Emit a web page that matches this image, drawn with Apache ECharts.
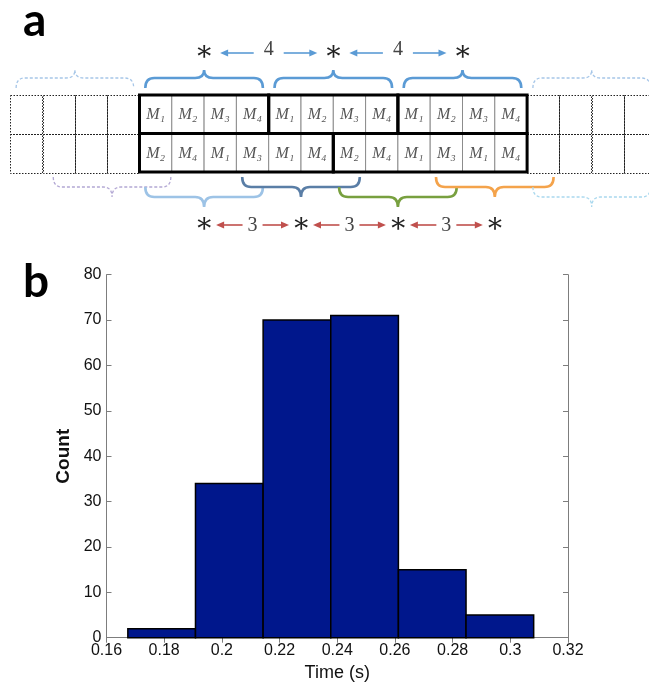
<!DOCTYPE html>
<html>
<head>
<meta charset="utf-8">
<script src="https://cdn.jsdelivr.net/npm/echarts@6.0.0/dist/echarts.min.js"></script>
<style>
html,body{margin:0;padding:0;background:#ffffff;}
#chart{width:649px;height:683px;}
</style>
</head>
<body>
<div id="chart"></div>
<script>
// ===== Panel b: histogram =====
const binStart = [0.1674, 0.19085, 0.2143, 0.23775, 0.2612, 0.28465];
const binEnd   = [0.19085, 0.2143, 0.23775, 0.2612, 0.28465, 0.3081];
const counts   = [2, 34, 70, 71, 15, 5];
const xTickLabels = ['0.16','0.18','0.2','0.22','0.24','0.26','0.28','0.3','0.32'];
const yTickLabels = ['0','10','20','30','40','50','60','70','80'];

// ===== Panel a: schedule table =====
const topRow    = ['M₁','M₂','M₃','M₄','M₁','M₂','M₃','M₄','M₁','M₂','M₃','M₄'];
const bottomRow = ['M₂','M₄','M₁','M₃','M₁','M₄','M₂','M₄','M₁','M₃','M₁','M₄'];
const topGroups    = [[0,4],[4,8],[8,12]];
const bottomGroups = [[0,6],[6,12]];
const ghostCols = 4;
const topStars    = [2, 6, 10];
const bottomStars = [2, 5, 8, 11];
const topBraceCenters    = [-2, 2, 6, 10, 14];
const bottomBraceCenters = [-0.85, 2, 5, 8, 11, 14];

// ----- styles -----
const topBraceColors  = ['#a6c6e8','#5b9bd5','#5b9bd5','#5b9bd5','#a6c6e8'];
const topBraceDashed  = [true,false,false,false,true];
const botBraceColors  = ['#b3a8d4','#9dc3e6','#5a7ea6','#78a03f','#f4a34b','#a9d8ee'];
const botBraceDashed  = [true,false,false,false,false,true];
const botBraceLevel   = [0,1,0,1,0,1];
const BRACE_HALF = 1.82;

const nCols = topRow.length;
const ghostData = [];
for (let r = 0; r < 2; r++) {
  for (let c = -ghostCols; c < 0; c++) ghostData.push([c, r]);
  for (let c = nCols; c < nCols + ghostCols; c++) ghostData.push([c, r]);
}
const cellData = topRow.map((_, i) => [i, 0]).concat(bottomRow.map((_, i) => [i, 1]));
const cellLabels = topRow.concat(bottomRow);
const groupData = topGroups.map(g => [g[0], g[1], 0]).concat(bottomGroups.map(g => [g[0], g[1], 1]));

function rectOf(api, c0, c1, r) {
  const p0 = api.coord([c0, r]), p1 = api.coord([c1, r + 1]);
  return {x: p0[0], y: p0[1], width: p1[0] - p0[0], height: p1[1] - p0[1]};
}
function bracePath(x0, x1, xc, yEnd, yLine, yPeak, r) {
  return 'M' + x0 + ',' + yEnd +
    ' Q' + x0 + ',' + yLine + ' ' + (x0 + r) + ',' + yLine +
    ' L' + (xc - r) + ',' + yLine +
    ' Q' + xc + ',' + yLine + ' ' + xc + ',' + yPeak +
    ' Q' + xc + ',' + yLine + ' ' + (xc + r) + ',' + yLine +
    ' L' + (x1 - r) + ',' + yLine +
    ' Q' + x1 + ',' + yLine + ' ' + x1 + ',' + yEnd;
}
function arrow(xTail, xHead, y, color) {
  const dir = xHead > xTail ? 1 : -1;
  return [
    {type: 'line', shape: {x1: xTail, y1: y, x2: xHead - dir * 5, y2: y}, style: {stroke: color, lineWidth: 1.6}},
    {type: 'polygon', shape: {points: [[xHead, y], [xHead - dir * 8, y - 3.6], [xHead - dir * 8, y + 3.6]]}, style: {fill: color}}
  ];
}

const gapPairsTop = topStars.slice(0, -1).map((s, i) => [s, topStars[i + 1]]);
const gapPairsBot = bottomStars.slice(0, -1).map((s, i) => [s, bottomStars[i + 1]]);

const chart = echarts.init(document.getElementById('chart'), null, {renderer: 'canvas'});
const axisGray = '#7d7d7d';
const option = {
  animation: false,
  backgroundColor: '#ffffff',
  textStyle: {fontFamily: 'Liberation Sans'},
  graphic: [
    {type: 'text', x: 23, y: 21, style: {text: 'a', font: 'bold 46px Lato', fill: '#000', align: 'left', verticalAlign: 'middle'}},
    {type: 'text', x: 23, y: 282, style: {text: 'b', font: 'bold 46px Lato', fill: '#000', align: 'left', verticalAlign: 'middle'}}
  ],
  grid: [
    {left: 10.3, top: 95, width: 646, height: 77, containLabel: false, outerBoundsMode: 'none'},
    {left: 106.5, top: 274.7, width: 461.5, height: 363, containLabel: false, outerBoundsMode: 'none'}
  ],
  xAxis: [
    {gridIndex: 0, type: 'value', min: -ghostCols, max: nCols + ghostCols, show: false},
    {gridIndex: 1, type: 'value', min: 0.16, max: 0.32, interval: 0.02, position: 'bottom',
     axisLine: {show: true, lineStyle: {color: axisGray, width: 1}},
     axisTick: {show: true, inside: true, length: 5, lineStyle: {color: axisGray}},
     axisLabel: {show: true, showMinLabel: true, showMaxLabel: true, margin: 5, color: '#111', fontSize: 16,
       formatter: (v, i) => xTickLabels[i]},
     splitLine: {show: false},
     name: 'Time (s)', nameLocation: 'middle', nameGap: 26,
     nameTextStyle: {fontSize: 18, color: '#111'}},
    {gridIndex: 1, type: 'value', min: 0.16, max: 0.32, interval: 0.02, position: 'top',
     axisLine: {show: true, lineStyle: {color: axisGray, width: 1}},
     axisTick: {show: true, inside: true, length: 5, lineStyle: {color: axisGray}},
     axisLabel: {show: false}, splitLine: {show: false}}
  ],
  yAxis: [
    {gridIndex: 0, type: 'value', min: 0, max: 2, inverse: true, show: false},
    {gridIndex: 1, type: 'value', min: 0, max: 80, interval: 10, position: 'left',
     axisLine: {show: true, lineStyle: {color: axisGray, width: 1}},
     axisTick: {show: true, inside: true, length: 5, lineStyle: {color: axisGray}},
     axisLabel: {show: true, showMinLabel: true, showMaxLabel: true, margin: 5, color: '#111', fontSize: 16,
       formatter: (v, i) => yTickLabels[i]},
     splitLine: {show: false},
     name: 'Count', nameLocation: 'middle', nameGap: 32,
     nameTextStyle: {fontSize: 19, fontWeight: 'bold', color: '#111'}},
    {gridIndex: 1, type: 'value', min: 0, max: 80, interval: 10, position: 'right',
     axisLine: {show: true, lineStyle: {color: axisGray, width: 1}},
     axisTick: {show: true, inside: true, length: 5, lineStyle: {color: axisGray}},
     axisLabel: {show: false}, splitLine: {show: false}}
  ],
  series: [
    // histogram bars
    {type: 'custom', xAxisIndex: 1, yAxisIndex: 1,
     data: binStart.map((s, i) => [s, binEnd[i], counts[i]]),
     encode: {x: [0, 1], y: 2},
     renderItem: (params, api) => {
       const p0 = api.coord([api.value(0), api.value(2)]);
       const p1 = api.coord([api.value(1), 0]);
       return {type: 'rect', shape: {x: p0[0], y: p0[1], width: p1[0] - p0[0], height: p1[1] - p0[1]},
         style: {fill: '#00178c', stroke: '#000', lineWidth: 1.5}};
     }},
    // ghost (dotted) cells
    {type: 'custom', xAxisIndex: 0, yAxisIndex: 0, clip: false, data: ghostData,
     renderItem: (params, api) => {
       const c = api.value(0), r = api.value(1);
       const s = rectOf(api, c, c + 1, r);
       s.x = Math.round(s.x) + 0.5; s.y = Math.round(s.y) + 0.5;
       s.width = Math.round(s.width); s.height = Math.round(s.height);
       return {type: 'rect', shape: s,
         style: {fill: 'none', stroke: '#222', lineWidth: 1, lineDash: [1.5, 1.5]}};
     }},
    // table cells
    {type: 'custom', xAxisIndex: 0, yAxisIndex: 0, clip: false, data: cellData,
     renderItem: (params, api) => {
       const c = api.value(0), r = api.value(1);
       const s = rectOf(api, c, c + 1, r);
       return {type: 'group', children: [
         {type: 'rect', shape: s, style: {fill: '#fff', stroke: '#8c8c8c', lineWidth: 1}},
         {type: 'text', style: {text: cellLabels[params.dataIndex], x: s.x + s.width / 2, y: s.y + s.height / 2 + 1,
           align: 'center', verticalAlign: 'middle', font: 'italic 16px "Liberation Serif", "DejaVu Serif"', fill: '#555'}}
       ]};
     }},
    // thick group borders
    {type: 'custom', xAxisIndex: 0, yAxisIndex: 0, clip: false, data: groupData,
     renderItem: (params, api) => {
       return {type: 'rect', shape: rectOf(api, api.value(0), api.value(1), api.value(2)),
         style: {fill: 'none', stroke: '#000', lineWidth: 3}};
     }},
    // top braces
    {type: 'custom', xAxisIndex: 0, yAxisIndex: 0, clip: false, data: topBraceCenters.map(c => [c, 0]),
     renderItem: (params, api) => {
       const c = api.value(0), i = params.dataIndex;
       const x0 = api.coord([c - BRACE_HALF, 0])[0], x1 = api.coord([c + BRACE_HALF, 0])[0];
       const xc = api.coord([c, 0])[0], top = api.coord([c, 0])[1];
       const dashed = topBraceDashed[i];
       return {type: 'path', shape: {pathData: bracePath(x0, x1, xc, top - 7, top - 17, top - 25, 9)},
         style: {fill: 'none', stroke: topBraceColors[i], lineWidth: dashed ? 1.3 : 2.6, lineDash: dashed ? [3, 2] : null}};
     }},
    // bottom braces
    {type: 'custom', xAxisIndex: 0, yAxisIndex: 0, clip: false, data: bottomBraceCenters.map(c => [c, 2]),
     renderItem: (params, api) => {
       const c = api.value(0), i = params.dataIndex;
       const x0 = api.coord([c - BRACE_HALF, 2])[0], x1 = api.coord([c + BRACE_HALF, 2])[0];
       const xc = api.coord([c, 2])[0], bot = api.coord([c, 2])[1] + botBraceLevel[i] * 10;
       const dashed = botBraceDashed[i];
       return {type: 'path', shape: {pathData: bracePath(x0, x1, xc, bot + 5, bot + 15, bot + 25, 9)},
         style: {fill: 'none', stroke: botBraceColors[i], lineWidth: dashed ? 1.3 : 2.6, lineDash: dashed ? [3, 2] : null}};
     }},
    // stars
    {type: 'custom', xAxisIndex: 0, yAxisIndex: 0, clip: false,
     data: topStars.map(s => [s, 0]).concat(bottomStars.map(s => [s, 2])),
     renderItem: (params, api) => {
       const p = api.coord([api.value(0), api.value(1)]);
       const y = api.value(1) === 0 ? p[1] - 42 : p[1] + 53;
       return {type: 'text', style: {text: '∗', x: p[0], y: y, align: 'center', verticalAlign: 'middle',
         font: '28px "DejaVu Serif"', fill: '#222'}};
     }},
    // top gaps (blue arrows)
    {type: 'custom', xAxisIndex: 0, yAxisIndex: 0, clip: false, data: gapPairsTop,
     renderItem: (params, api) => {
       const a = api.value(0), b = api.value(1);
       const xa = api.coord([a, 0])[0], xb = api.coord([b, 0])[0], y = api.coord([a, 0])[1] - 42;
       const xm = (xa + xb) / 2, col = '#5b9bd5';
       return {type: 'group', children: [].concat(
         arrow(xm - 15, xa + 16, y, col), arrow(xm + 15, xb - 16, y, col),
         [{type: 'text', style: {text: String(b - a), x: xm, y: y - 3, align: 'center', verticalAlign: 'middle',
           font: '20px "Liberation Serif"', fill: '#444'}}])};
     }},
    // bottom gaps (red arrows)
    {type: 'custom', xAxisIndex: 0, yAxisIndex: 0, clip: false, data: gapPairsBot,
     renderItem: (params, api) => {
       const a = api.value(0), b = api.value(1);
       const xa = api.coord([a, 2])[0], xb = api.coord([b, 2])[0], y = api.coord([a, 2])[1] + 53;
       const xm = (xa + xb) / 2, col = '#c0504d';
       return {type: 'group', children: [].concat(
         arrow(xm - 10, xa + 12, y, col), arrow(xm + 10, xb - 12, y, col),
         [{type: 'text', style: {text: String(b - a), x: xm, y: y + 1, align: 'center', verticalAlign: 'middle',
           font: '20px "Liberation Serif"', fill: '#444'}}])};
     }}
  ]
};
chart.setOption(option);
</script>
</body>
</html>
